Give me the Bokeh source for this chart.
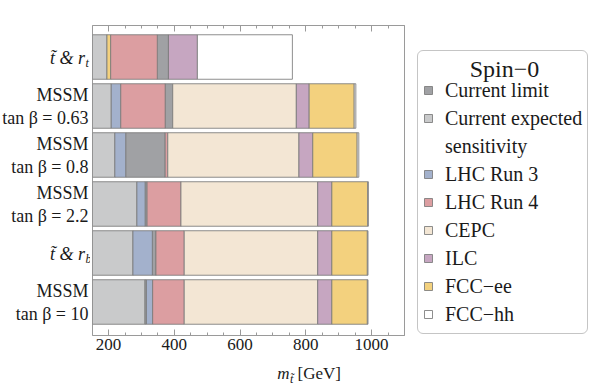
from bokeh.plotting import figure
from bokeh.models import Range1d, FixedTicker, LinearAxis, Legend, LegendItem, ColumnDataSource
from bokeh.core.properties import value
from bokeh.layouts import row, column
from bokeh.embed import file_html
from bokeh.resources import INLINE

# ---------------- data ----------------
row_line1 = ["t\u0303 & r", "MSSM", "MSSM", "MSSM", "t\u0303 & r", "MSSM"]
row_line2 = ["t", "tan \u03b2 = 0.63", "tan \u03b2 = 0.8", "tan \u03b2 = 2.2", "b", "tan \u03b2 = 10"]
row_is_stop = [True, False, False, False, True, False]

current_limit    = [382, 395, 372, 317, 344, 315]
current_expected = [195, 208, 219, 286, 274, 310]
lhc_run3         = [None, 237, 252, 311, 333, 334]
lhc_run4         = [348, 372, 380, 420, 430, 430]
cepc             = [None, 771, 779, 836, 836, 836]
ilc              = [470, 810, 821, 879, 879, 879]
fcc_ee           = [206, 947, 956, 988, 987, 987]
fcc_hh           = [759, 952, 961, 990, 989, 989]

series_names  = ["Current limit", "Current expected", "LHC Run 3", "LHC Run 4",
                 "CEPC", "ILC", "FCC\u2212ee", "FCC\u2212hh"]
series_values = [current_limit, current_expected, lhc_run3, lhc_run4,
                 cepc, ilc, fcc_ee, fcc_hh]
series_colors = ["#a0a1a4", "#c9cacb", "#a3b1cc", "#dc9ea1",
                 "#f3e6d4", "#c6a6c1", "#f3d17e", "#ffffff"]

x_ticks_major = [200, 400, 600, 800, 1000]
x_ticks_minor = list(range(150, 1101, 50))

# ---------------- layout constants ----------------
X0, X1 = 151, 1100
Y_TOP, Y_BOT = -0.643, 5.684
FW, FH = 312, 310
LEFT_W = 90          # label panel width
PAD = 2              # main figure side borders
BT, BB = 25, 25      # top/bottom borders (shared by the row)
H = BT + FH + BB     # 360
TOTAL_W = 592
D_LEFT = LEFT_W + 2 * PAD + FW
RIGHT_W = TOTAL_W - D_LEFT
XL_H = 29
FONT = "Liberation Serif"
TXT = "#1a1a1a"
EDGE = "#7a7a7a"
AX = "#9a9a9a"

px_per_row = FH / (Y_BOT - Y_TOP)

def side(width, xr, yr):
    f = figure(output_backend="svg", toolbar_location=None, width=width,
               frame_height=FH, x_range=xr, y_range=yr,
               x_axis_location=None, y_axis_location=None,
               min_border_left=0, min_border_right=0,
               min_border_top=BT, min_border_bottom=BB)
    f.outline_line_color = None
    f.grid.visible = False
    f.background_fill_color = "white"
    f.border_fill_color = "white"
    return f

# ---------------- main plot ----------------
p = figure(output_backend="svg", toolbar_location=None,
           frame_width=FW, frame_height=FH,
           min_border_left=PAD, min_border_right=PAD,
           min_border_top=BT, min_border_bottom=BB,
           x_range=Range1d(X0, X1), y_range=Range1d(Y_BOT, Y_TOP),
           y_axis_location=None, x_axis_location="below")
p.background_fill_color = "white"
p.border_fill_color = "white"
p.outline_line_color = AX
p.grid.visible = False

n = len(row_line1)
renderers, sources = [], []
for k, vals in enumerate(series_values):
    ys, lefts, rights = [], [], []
    for i in range(n):
        v = vals[i]
        if v is None:
            continue
        lower = [series_values[j][i] for j in range(len(series_values))
                 if j != k and series_values[j][i] is not None and series_values[j][i] < v]
        ys.append(i)
        lefts.append(max(lower) if lower else 0)
        rights.append(v)
    src = ColumnDataSource(dict(y=ys, left=lefts, right=rights))
    r = p.hbar(y="y", left="left", right="right", height=44.5 / px_per_row, source=src,
               fill_color=series_colors[k], line_color=EDGE, line_width=1, line_alpha=0.85)
    renderers.append(r)
    sources.append(src)

for ax in p.xaxis:
    ax.ticker = FixedTicker(ticks=x_ticks_major, minor_ticks=x_ticks_minor)
    ax.axis_line_color = AX
    ax.major_tick_line_color = AX
    ax.minor_tick_line_color = AX
    ax.major_tick_in = 6
    ax.major_tick_out = 0
    ax.minor_tick_in = 3
    ax.minor_tick_out = 0
    ax.major_label_text_font = FONT
    ax.major_label_text_font_size = "17px"
    ax.major_label_text_color = TXT
    ax.major_label_standoff = 3

top = LinearAxis(ticker=FixedTicker(ticks=x_ticks_major, minor_ticks=x_ticks_minor),
                 axis_line_color=AX, major_tick_line_color=AX, minor_tick_line_color=AX,
                 major_tick_in=6, major_tick_out=0, minor_tick_in=3, minor_tick_out=0,
                 major_label_overrides={t: "" for t in x_ticks_major},
                 major_label_standoff=0)
p.add_layout(top, "above")

# ---------------- row labels panel ----------------
A = side(LEFT_W, Range1d(0, LEFT_W), Range1d(Y_BOT, Y_TOP))
for i in range(n):
    if row_is_stop[i]:
        A.text(x=[84.5], y=[i + 1 / px_per_row], text=[row_line1[i]],
               text_font=value(FONT), text_font_style="italic", text_font_size="18px",
               text_color=TXT, text_align="right", text_baseline="middle")
        A.text(x=[85], y=[i + 6 / px_per_row], text=[row_line2[i]],
               text_font=value(FONT), text_font_style="italic", text_font_size="12px",
               text_color=TXT, text_align="left", text_baseline="middle")
    else:
        A.text(x=[88], y=[i - 11 / px_per_row], text=[row_line1[i]],
               text_font=value(FONT), text_font_size="18px",
               text_color=TXT, text_align="right", text_baseline="middle")
        A.text(x=[88], y=[i + 12 / px_per_row], text=[row_line2[i]],
               text_font=value(FONT), text_font_size="18px",
               text_color=TXT, text_align="right", text_baseline="middle")

# ---------------- legend panel (page-pixel data coords) ----------------
D = side(RIGHT_W, Range1d(0, RIGHT_W), Range1d(BT + FH, BT))
swatches = []
for k in range(len(series_names)):
    s = D.hbar(y="y", left="left", right="right", height=1, source=sources[k],
               fill_color=series_colors[k], line_color=EDGE, line_width=1, line_alpha=0.85)
    s.visible = False
    swatches.append(s)
spacer = D.hbar(y="y", left="left", right="right", height=1, source=sources[0],
                fill_alpha=0, line_alpha=0)
spacer.visible = False

items = [LegendItem(label=series_names[0], renderers=[swatches[0]]),
         LegendItem(label="Current expected", renderers=[swatches[1]]),
         LegendItem(label="sensitivity", renderers=[spacer])]
for k in range(2, len(series_names)):
    items.append(LegendItem(label=series_names[k], renderers=[swatches[k]]))

legend = Legend(items=items, location=(417 - D_LEFT, 1), title="\u00a0",
                title_text_font_size="13px", title_standoff=5,
                label_text_font=FONT, label_text_font_size="20px", label_text_color=TXT,
                label_height=28, spacing=0, padding=5, glyph_width=10, glyph_height=10,
                label_standoff=12, border_line_color="#8c8c8c", border_line_width=1,
                background_fill_alpha=0.0, inactive_fill_alpha=0.0)
if "border_radius" in Legend.properties():
    legend.border_radius = 6
D.add_layout(legend, "center")
D.text(x=[504 - D_LEFT], y=[68], text=["Spin\u22120"],
       text_font=value(FONT), text_font_size="24px", text_color=TXT,
       text_align="center", text_baseline="middle")

# ---------------- x label panel ----------------
C = figure(output_backend="svg", toolbar_location=None, width=TOTAL_W, height=XL_H,
           x_range=Range1d(0, TOTAL_W), y_range=Range1d(XL_H, 0),
           x_axis_location=None, y_axis_location=None,
           min_border=0, min_border_left=0, min_border_right=0,
           min_border_top=0, min_border_bottom=0)
C.outline_line_color = None
C.grid.visible = False
cy = 373 - H
C.text(x=[289], y=[cy], text=["m"], text_font=value(FONT), text_font_style="italic",
       text_font_size="17px", text_color=TXT, text_align="right", text_baseline="middle")
C.text(x=[289.5], y=[cy + 5], text=["t\u0303"], text_font=value(FONT), text_font_style="italic",
       text_font_size="12px", text_color=TXT, text_align="left", text_baseline="middle")
C.text(x=[297], y=[cy], text=["[GeV]"], text_font=value(FONT),
       text_font_size="17px", text_color=TXT, text_align="left", text_baseline="middle")

layout = column(row(A, p, D), C)
open("out.html", "w").write(file_html(layout, INLINE))
